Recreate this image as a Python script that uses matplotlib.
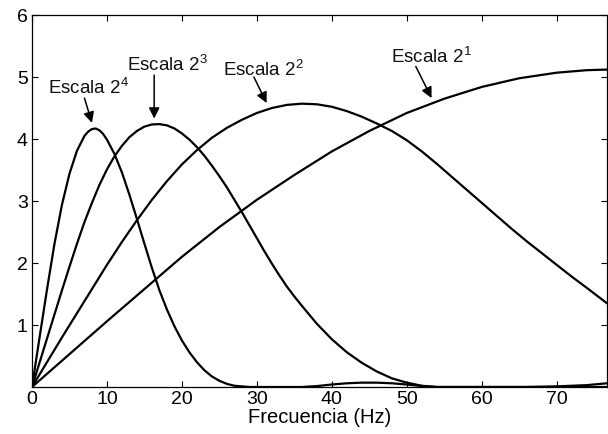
import matplotlib
matplotlib.use("Agg")
import matplotlib.pyplot as plt

plt.rcParams['font.family'] = ['Liberation Sans', 'DejaVu Sans']
plt.rcParams['mathtext.fontset'] = 'custom'
plt.rcParams['mathtext.rm'] = 'Liberation Sans'
plt.rcParams['mathtext.it'] = 'Liberation Sans'
plt.rcParams['mathtext.bf'] = 'Liberation Sans:bold'

# Scale 2^4
x_s4 = [0, 1, 2, 3, 4, 5, 6, 7, 7.5, 8, 8.5, 9, 9.5, 10, 11, 12, 13, 14, 15, 16, 17, 18, 19, 20,
        21, 22, 23, 24, 25, 26, 27, 28, 29, 36, 38, 40, 42, 44, 46, 48, 50, 52, 54, 60, 70, 76.7]
y_s4 = [0, 0.79, 1.57, 2.31, 2.94, 3.44, 3.81, 4.05, 4.12, 4.16, 4.17, 4.14, 4.08, 3.99, 3.76,
        3.46, 3.10, 2.71, 2.31, 1.92, 1.56, 1.25, 0.98, 0.75, 0.56, 0.40, 0.27, 0.17, 0.10,
        0.05, 0.02, 0.01, 0.0, 0.0, 0.015, 0.04, 0.06, 0.07, 0.07, 0.06, 0.04, 0.015, 0.0,
        0.0, 0.0, 0.0]

# Scale 2^3
x_s3 = [0, 1, 2, 3, 4, 5, 6, 7, 8, 9, 10, 11, 12, 13, 14, 15, 16, 17, 18, 19, 20, 21, 22,
        23, 24, 25, 26, 27, 28, 29, 30, 31, 32, 33, 34, 35, 36, 38, 40, 42, 44, 46, 48, 50,
        52, 54, 60, 66, 70, 74, 76.7]
y_s3 = [0, 0.39, 0.78, 1.17, 1.56, 1.94, 2.31, 2.66, 2.97, 3.26, 3.51, 3.72, 3.89, 4.03, 4.13,
        4.20, 4.235, 4.24, 4.22, 4.17, 4.09, 3.99, 3.87, 3.73, 3.57, 3.40, 3.22, 3.02, 2.82,
        2.61, 2.40, 2.19, 1.99, 1.80, 1.62, 1.46, 1.31, 1.02, 0.77, 0.56, 0.39, 0.25, 0.14,
        0.07, 0.02, 0.0, 0.0, 0.0, 0.01, 0.03, 0.06]

# Scale 2^2
x_s2 = [0, 2, 4, 6, 8, 10, 12, 14, 16, 18, 20, 22, 24, 26, 28, 30, 32, 34, 36, 38, 40, 42,
        44, 46, 48, 50, 52, 54, 56, 58, 60, 62, 64, 66, 68, 70, 72, 74, 76.7]
y_s2 = [0, 0.40, 0.80, 1.19, 1.58, 1.97, 2.34, 2.69, 3.02, 3.32, 3.59, 3.82, 4.02, 4.18, 4.31,
        4.42, 4.50, 4.55, 4.57, 4.56, 4.52, 4.45, 4.36, 4.25, 4.13, 3.98, 3.80, 3.60, 3.39,
        3.18, 2.97, 2.76, 2.55, 2.35, 2.16, 1.97, 1.78, 1.60, 1.35]

# Scale 2^1
x_s1 = [0, 5, 10, 15, 20, 25, 30, 35, 40, 45, 50, 55, 60, 65, 70, 74, 76.7]
y_s1 = [0, 0.53, 1.06, 1.58, 2.10, 2.58, 3.02, 3.42, 3.80, 4.13, 4.42, 4.65, 4.84, 4.98, 5.07,
        5.11, 5.12]

labels = ['Escala 2$^{4}$', 'Escala 2$^{3}$', 'Escala 2$^{2}$', 'Escala 2$^{1}$']
text_pos = [(7.5, 4.82), (18.0, 5.19), (30.9, 5.11), (53.3, 5.32)]
arrow_tail = [(7.0, 4.66), (16.3, 5.03), (29.6, 5.00), (51.2, 5.17)]
arrow_head = [(8.0, 4.26), (16.3, 4.33), (31.3, 4.58), (53.3, 4.66)]

xticks = [0, 10, 20, 30, 40, 50, 60, 70]
yticks = [1, 2, 3, 4, 5, 6]

fig = plt.figure(figsize=(6.08, 4.34), dpi=100)
ax = fig.add_axes([0.0526, 0.1083, 0.9457, 0.8571])

for xs, ys in [(x_s4, y_s4), (x_s3, y_s3), (x_s2, y_s2), (x_s1, y_s1)]:
    ax.plot(xs, ys, color='black', lw=1.6, solid_joinstyle='round', solid_capstyle='round')

for lab, tp, at, ah in zip(labels, text_pos, arrow_tail, arrow_head):
    ax.text(tp[0], tp[1], lab, ha='center', va='center', fontsize=13.5, color='#111111')
    ax.annotate('', xy=ah, xytext=at,
                arrowprops=dict(arrowstyle='-|>', color='black', lw=1.1,
                                mutation_scale=16, shrinkA=0, shrinkB=0))

ax.set_xlim(0, 76.7)
ax.set_ylim(0, 6)
ax.set_xticks(xticks)
ax.set_xticklabels([str(t) for t in xticks])
ax.set_yticks(yticks)
ax.set_yticklabels([str(t) for t in yticks])
ax.tick_params(direction='in', length=4, width=0.8, top=True, right=True,
               labelsize=14, pad=3)
for sp in ax.spines.values():
    sp.set_linewidth(0.9)
ax.set_xlabel('Frecuencia (Hz)', fontsize=14.5, labelpad=0)

fig.savefig('out.png', dpi=100)
